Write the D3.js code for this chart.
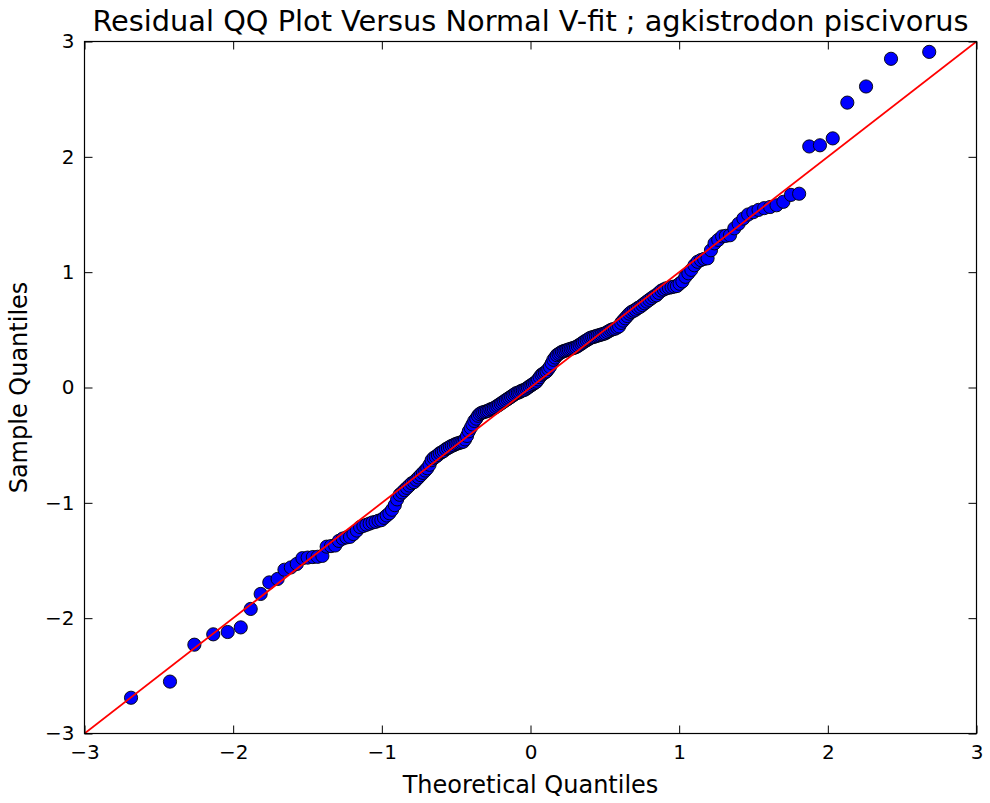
<!DOCTYPE html>
<html>
<head>
<meta charset="utf-8">
<script src="https://cdn.jsdelivr.net/npm/d3@7"></script>
<style>
  html, body { margin: 0; padding: 0; background: #fff; }
  svg { display: block; }
  text { font-family: "DejaVu Sans", sans-serif; fill: #000; }
</style>
</head>
<body>
<svg id="chart" width="990" height="803"></svg>
<script>
const chartTitle = "Residual QQ Plot Versus Normal V-fit ; agkistrodon piscivorus";
const xLabel = "Theoretical Quantiles";
const yLabel = "Sample Quantiles";
const xTicks = [-3, -2, -1, 0, 1, 2, 3];
const yTicks = [-3, -2, -1, 0, 1, 2, 3];
const refLine = [[-3, -3], [3, 3]];

const theoretical = [
  -2.687,-2.425,-2.261,-2.134,-2.037,-1.949,-1.882,-1.815,-1.757,-1.701,
  -1.655,-1.612,-1.572,-1.534,-1.499,-1.464,-1.432,-1.400,-1.371,-1.342,
  -1.314,-1.289,-1.263,-1.238,-1.214,-1.191,-1.168,-1.146,-1.124,-1.103,
  -1.082,-1.062,-1.042,-1.022,-1.003,-0.985,-0.967,-0.949,-0.931,-0.913,
  -0.897,-0.880,-0.863,-0.847,-0.831,-0.815,-0.799,-0.783,-0.768,-0.753,
  -0.738,-0.723,-0.708,-0.694,-0.679,-0.665,-0.651,-0.637,-0.623,-0.610,
  -0.596,-0.583,-0.569,-0.555,-0.542,-0.529,-0.516,-0.503,-0.491,-0.478,
  -0.465,-0.452,-0.440,-0.427,-0.415,-0.402,-0.390,-0.378,-0.365,-0.353,
  -0.342,-0.330,-0.318,-0.306,-0.294,-0.282,-0.270,-0.258,-0.247,-0.235,
  -0.223,-0.212,-0.200,-0.189,-0.177,-0.166,-0.154,-0.143,-0.131,-0.120,
  -0.108,-0.097,-0.085,-0.074,-0.062,-0.051,-0.040,-0.028,-0.017,-0.006,
  0.006,0.017,0.028,0.040,0.051,0.062,0.074,0.085,0.097,0.108,
  0.120,0.131,0.143,0.154,0.166,0.177,0.189,0.200,0.212,0.223,
  0.235,0.247,0.258,0.270,0.282,0.294,0.306,0.318,0.330,0.342,
  0.353,0.365,0.378,0.390,0.402,0.415,0.427,0.440,0.452,0.465,
  0.478,0.491,0.503,0.516,0.529,0.542,0.555,0.569,0.583,0.596,
  0.610,0.623,0.637,0.651,0.665,0.679,0.694,0.708,0.723,0.738,
  0.753,0.768,0.783,0.799,0.815,0.831,0.847,0.863,0.880,0.897,
  0.913,0.931,0.949,0.967,0.985,1.003,1.022,1.042,1.062,1.082,
  1.103,1.124,1.146,1.168,1.191,1.214,1.238,1.263,1.289,1.314,
  1.342,1.371,1.400,1.432,1.464,1.499,1.534,1.572,1.612,1.655,
  1.701,1.752,1.807,1.875,1.947,2.033,2.131,2.257,2.425,2.682
];

const sample = [
  -2.69,-2.55,-2.23,-2.14,-2.12,-2.08,-1.92,-1.79,-1.69,-1.66,
  -1.58,-1.56,-1.53,-1.48,-1.475,-1.47,-1.468,-1.46,-1.38,-1.375,
  -1.37,-1.33,-1.31,-1.30,-1.295,-1.27,-1.24,-1.21,-1.20,-1.19,
  -1.18,-1.17,-1.165,-1.155,-1.15,-1.13,-1.11,-1.09,-1.06,-1.02,
  -0.97,-0.93,-0.91,-0.89,-0.87,-0.85,-0.83,-0.82,-0.80,-0.78,
  -0.76,-0.74,-0.72,-0.70,-0.67,-0.63,-0.61,-0.60,-0.585,-0.57,
  -0.56,-0.55,-0.535,-0.525,-0.515,-0.505,-0.50,-0.49,-0.485,-0.48,
  -0.475,-0.47,-0.45,-0.42,-0.38,-0.35,-0.32,-0.29,-0.27,-0.245,
  -0.23,-0.22,-0.215,-0.21,-0.205,-0.20,-0.19,-0.185,-0.18,-0.17,
  -0.16,-0.15,-0.14,-0.13,-0.12,-0.11,-0.10,-0.09,-0.08,-0.07,
  -0.06,-0.05,-0.045,-0.04,-0.03,-0.025,-0.02,-0.01,0.00,0.01,
  0.02,0.03,0.04,0.05,0.07,0.09,0.11,0.12,0.13,0.14,
  0.16,0.18,0.21,0.24,0.26,0.28,0.29,0.30,0.31,0.315,
  0.32,0.325,0.33,0.335,0.34,0.345,0.35,0.36,0.37,0.38,
  0.39,0.40,0.41,0.42,0.43,0.435,0.44,0.445,0.45,0.455,
  0.46,0.465,0.47,0.48,0.49,0.50,0.505,0.51,0.52,0.53,
  0.56,0.58,0.60,0.62,0.64,0.655,0.665,0.675,0.69,0.70,
  0.715,0.73,0.745,0.76,0.775,0.79,0.80,0.82,0.84,0.85,
  0.86,0.865,0.87,0.875,0.88,0.90,0.92,0.96,0.99,1.02,
  1.06,1.09,1.105,1.115,1.12,1.19,1.25,1.28,1.31,1.315,
  1.32,1.38,1.42,1.465,1.50,1.52,1.54,1.555,1.565,1.58,
  1.61,1.67,1.68,2.09,2.10,2.16,2.47,2.61,2.85,2.91
];

const points = theoretical.map((t, i) => ({ t, s: sample[i] }));

const pLeft = 84.5, pRight = 976.5, pTop = 41.5, pBottom = 733.5;

const svg = d3.select("#chart");
const x = d3.scaleLinear().domain([-3, 3]).range([pLeft, pRight]);
const y = d3.scaleLinear().domain([-3, 3]).range([pBottom, pTop]);
const fmt = d => d < 0 ? "\u2212" + Math.abs(d) : String(d);

svg.append("defs").append("clipPath").attr("id", "clip")
  .append("rect").attr("x", pLeft).attr("y", pTop)
  .attr("width", pRight - pLeft).attr("height", pBottom - pTop);

const plot = svg.append("g").attr("clip-path", "url(#clip)");

plot.selectAll("circle.pt").data(points).enter().append("circle")
  .attr("class", "pt")
  .attr("cx", d => x(d.t))
  .attr("cy", d => y(d.s))
  .attr("r", 6.6)
  .attr("fill", "#0000ff")
  .attr("stroke", "#000")
  .attr("stroke-width", 0.9);

plot.append("path")
  .datum(refLine)
  .attr("d", d3.line().x(d => x(d[0])).y(d => y(d[1])))
  .attr("fill", "none")
  .attr("stroke", "#ff0000")
  .attr("stroke-width", 1.8);

const tickLen = 8;
const gx = svg.append("g").attr("transform", `translate(0,${pBottom})`)
  .call(d3.axisBottom(x).tickValues(xTicks).tickFormat(fmt).tickSizeInner(-tickLen).tickSizeOuter(0).tickPadding(11));
const gxTop = svg.append("g").attr("transform", `translate(0,${pTop})`)
  .call(d3.axisTop(x).tickValues(xTicks).tickFormat("").tickSizeInner(-tickLen).tickSizeOuter(0));
const gy = svg.append("g").attr("transform", `translate(${pLeft},0)`)
  .call(d3.axisLeft(y).tickValues(yTicks).tickFormat(fmt).tickSizeInner(-tickLen).tickSizeOuter(0).tickPadding(10));
const gyR = svg.append("g").attr("transform", `translate(${pRight},0)`)
  .call(d3.axisRight(y).tickValues(yTicks).tickFormat("").tickSizeInner(-tickLen).tickSizeOuter(0));

[gx, gxTop, gy, gyR].forEach(g => {
  g.select(".domain").remove();
  g.selectAll(".tick line").attr("stroke", "#000").attr("stroke-width", 1);
  g.selectAll(".tick text").attr("font-family", "DejaVu Sans").attr("font-size", 20).attr("fill", "#000");
});

svg.append("rect")
  .attr("x", pLeft).attr("y", pTop)
  .attr("width", pRight - pLeft).attr("height", pBottom - pTop)
  .attr("fill", "none").attr("stroke", "#000").attr("stroke-width", 1.2);

svg.append("text")
  .attr("x", (pLeft + pRight) / 2).attr("y", 31)
  .attr("text-anchor", "middle")
  .attr("font-size", 28.8)
  .text(chartTitle);

svg.append("text")
  .attr("x", (pLeft + pRight) / 2).attr("y", 793)
  .attr("text-anchor", "middle")
  .attr("font-size", 24)
  .text(xLabel);

svg.append("text")
  .attr("transform", `translate(27,${(pTop + pBottom) / 2}) rotate(-90)`)
  .attr("text-anchor", "middle")
  .attr("font-size", 24)
  .text(yLabel);
</script>
</body>
</html>
